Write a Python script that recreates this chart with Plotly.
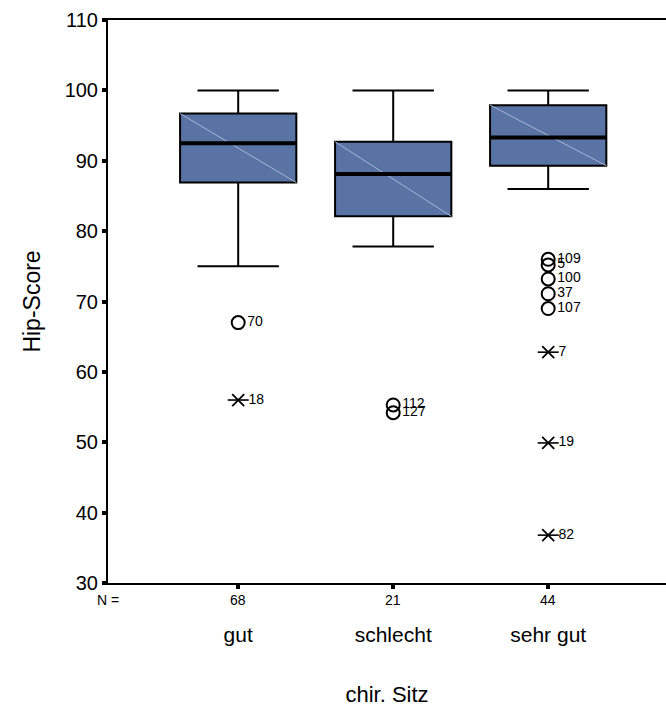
import plotly.graph_objects as go

categories = ["gut", "schlecht", "sehr gut"]
n_counts = [68, 21, 44]
q1 = [86.9, 82.1, 89.3]
median = [92.5, 88.1, 93.3]
q3 = [96.7, 92.7, 97.9]
lower_whisker = [75.0, 77.8, 86.0]
upper_whisker = [100.0, 100.0, 100.0]

outlier_cat = ["gut", "schlecht", "schlecht", "sehr gut", "sehr gut", "sehr gut", "sehr gut", "sehr gut"]
outlier_val = [67.0, 55.3, 54.2, 76.0, 75.2, 73.2, 71.1, 69.0]
outlier_id = ["70", "112", "127", "109", "5", "100", "37", "107"]

extreme_cat = ["gut", "sehr gut", "sehr gut", "sehr gut"]
extreme_val = [56.0, 62.8, 49.9, 36.8]
extreme_id = ["18", "7", "19", "82"]

y_ticks = [30, 40, 50, 60, 70, 80, 90, 100, 110]

FONT = "Liberation Sans, Arial, sans-serif"
BOX_W = 0.75
pos = {c: i + 1 for i, c in enumerate(categories)}
xs = [pos[c] for c in categories]

fig = go.Figure()
fig.add_trace(go.Box(
    x=xs, q1=q1, median=median, q3=q3,
    lowerfence=lower_whisker, upperfence=upper_whisker,
    boxpoints=False, width=BOX_W, whiskerwidth=0.7,
    fillcolor="#5873a4", line=dict(color="black", width=2),
    showlegend=False, hoverinfo="skip"))

# diagonal highlight lines and thick medians
for i, c in enumerate(categories):
    x0, x1 = pos[c] - BOX_W / 2, pos[c] + BOX_W / 2
    fig.add_trace(go.Scatter(x=[x0, x1], y=[q3[i], q1[i]], mode="lines",
                             line=dict(color="#a9b8d4", width=1),
                             showlegend=False, hoverinfo="skip"))
    fig.add_trace(go.Scatter(x=[x0, x1], y=[median[i], median[i]], mode="lines",
                             line=dict(color="black", width=4),
                             showlegend=False, hoverinfo="skip"))

fig.add_trace(go.Scatter(
    x=[pos[c] for c in outlier_cat], y=outlier_val, mode="markers+text",
    marker=dict(symbol="circle-open", size=13, color="black", line=dict(width=2)),
    text=outlier_id, textposition="middle right",
    textfont=dict(family=FONT, size=14, color="black"),
    showlegend=False, hoverinfo="skip"))

fig.add_trace(go.Scatter(
    x=[pos[c] for c in extreme_cat], y=extreme_val, mode="markers",
    marker=dict(symbol="x-thin-open", size=12, color="black", line=dict(width=1.8, color="black")),
    showlegend=False, hoverinfo="skip"))
fig.add_trace(go.Scatter(
    x=[pos[c] for c in extreme_cat], y=extreme_val, mode="markers+text",
    marker=dict(symbol="line-ew-open", size=15, color="black", line=dict(width=1.6, color="black")),
    text=extreme_id, textposition="middle right",
    textfont=dict(family=FONT, size=14, color="black"),
    showlegend=False, hoverinfo="skip"))

annotations = [dict(x=pos[c], y=0, xref="x", yref="paper", text=str(n), showarrow=False,
                    xanchor="center", yanchor="middle",
                    yshift=-17, font=dict(family=FONT, size=14, color="black"))
               for c, n in zip(categories, n_counts)]
annotations.append(dict(x=0, y=0, xref="paper", yref="paper", text="N =", showarrow=False,
                        xanchor="center", yanchor="middle",
                        yshift=-17, font=dict(family=FONT, size=14, color="black")))

fig.update_layout(
    width=666, height=713,
    margin=dict(l=108, r=0, t=20, b=130),
    plot_bgcolor="white", paper_bgcolor="white",
    font=dict(family=FONT, color="black"),
    annotations=annotations,
    xaxis=dict(range=[0.16, 3.76], tickvals=xs, ticktext=categories,
               showgrid=False, zeroline=False,
               showline=True, linecolor="black", linewidth=2, mirror=True,
               ticks="outside", ticklen=4, tickwidth=4, tickcolor="black",
               ticklabelstandoff=28,
               tickfont=dict(family=FONT, size=21, color="black"),
               title=dict(text="chir. Sitz", font=dict(family=FONT, size=22, color="black"), standoff=41)),
    yaxis=dict(range=[30, 110], tickvals=y_ticks,
               showgrid=False, zeroline=False,
               showline=True, linecolor="black", linewidth=2,
               ticks="outside", ticklen=4, tickwidth=4, tickcolor="black",
               tickfont=dict(family=FONT, size=20, color="black"),
               title=dict(text="Hip-Score", font=dict(family=FONT, size=23, color="black"), standoff=18)),
)

fig.write_html("out.html")
